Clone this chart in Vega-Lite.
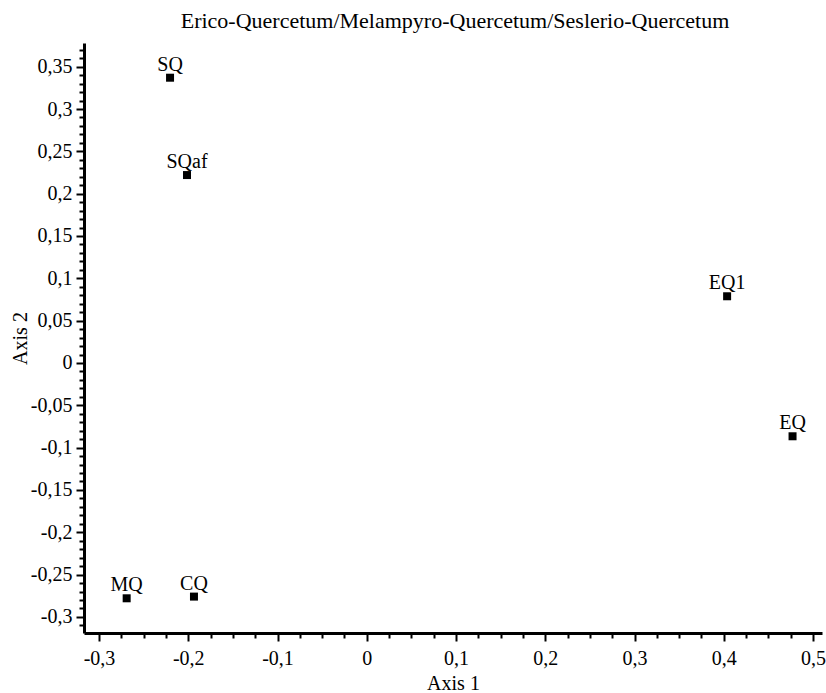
{
  "$schema": "https://vega.github.io/schema/vega-lite/v6.json",
  "width": 738,
  "height": 590,
  "autosize": "none",
  "padding": {"left": 84, "top": 43, "right": 4, "bottom": 60},
  "title": {"text": "Erico-Quercetum/Melampyro-Quercetum/Seslerio-Quercetum", "font": "Liberation Serif", "fontSize": 22, "fontWeight": "normal", "color": "black", "offset": 7, "anchor": "middle", "dx": 2},
  "config": {
    "view": {"stroke": null},
    "font": "Liberation Serif",
    "axis": {
      "labelFont": "Liberation Serif", "labelFontSize": 20, "labelColor": "black",
      "titleFont": "Liberation Serif", "titleFontSize": 20, "titleFontWeight": "normal", "titleColor": "black",
      "domainColor": "black", "domainWidth": 3, "tickColor": "black", "tickWidth": 2, "grid": false
    }
  },
  "data": {"values": [
    {"site": "SQ", "axis1": -0.2204, "axis2": 0.337},
    {"site": "SQaf", "axis1": -0.2014, "axis2": 0.222},
    {"site": "MQ", "axis1": -0.269, "axis2": -0.278},
    {"site": "CQ", "axis1": -0.1936, "axis2": -0.276},
    {"site": "EQ1", "axis1": 0.4037, "axis2": 0.0788},
    {"site": "EQ", "axis1": 0.477, "axis2": -0.0866}
  ]},
  "encoding": {
    "x": {
      "field": "axis1", "type": "quantitative",
      "scale": {"domain": [-0.3168, 0.51], "nice": false, "zero": false},
      "axis": {
        "title": "Axis 1",
        "values": [-0.3,-0.275,-0.25,-0.225,-0.2,-0.175,-0.15,-0.125,-0.1,-0.075,-0.05,-0.025,0,0.025,0.05,0.075,0.1,0.125,0.15,0.175,0.2,0.225,0.25,0.275,0.3,0.325,0.35,0.375,0.4,0.425,0.45,0.475,0.5],
        "tickSize": {"condition": {"test": "abs(datum.value*10 - round(datum.value*10)) < 0.001", "value": 8}, "value": 5},
        "labelExpr": "abs(datum.value*10 - round(datum.value*10)) < 0.001 ? replace(replace(format(datum.value, '.2~f'), '.', ','), '\u2212', '-') : ''",
        "labelPadding": 7, "labelFlush": false, "labelOverlap": false,
        "titlePadding": 5
      }
    },
    "y": {
      "field": "axis2", "type": "quantitative",
      "scale": {"domain": [-0.319, 0.378], "nice": false, "zero": false},
      "axis": {
        "title": "Axis 2",
        "values": [-0.31,-0.3,-0.29,-0.28,-0.27,-0.26,-0.25,-0.24,-0.23,-0.22,-0.21,-0.2,-0.19,-0.18,-0.17,-0.16,-0.15,-0.14,-0.13,-0.12,-0.11,-0.1,-0.09,-0.08,-0.07,-0.06,-0.05,-0.04,-0.03,-0.02,-0.01,0,0.01,0.02,0.03,0.04,0.05,0.06,0.07,0.08,0.09,0.1,0.11,0.12,0.13,0.14,0.15,0.16,0.17,0.18,0.19,0.2,0.21,0.22,0.23,0.24,0.25,0.26,0.27,0.28,0.29,0.3,0.31,0.32,0.33,0.34,0.35,0.36,0.37],
        "tickSize": {"condition": {"test": "abs(datum.value*20 - round(datum.value*20)) < 0.001", "value": 8}, "value": 5},
        "labelExpr": "abs(datum.value*20 - round(datum.value*20)) < 0.001 ? replace(replace(format(datum.value, '.2~f'), '.', ','), '\u2212', '-') : ''",
        "labelPadding": 4, "labelFlush": false, "labelOverlap": false,
        "titlePadding": 0
      }
    }
  },
  "layer": [
    {"mark": {"type": "point", "shape": "square", "filled": true, "color": "black", "size": 64, "opacity": 1}},
    {"mark": {"type": "text", "dy": -7, "baseline": "alphabetic", "align": "center", "fontSize": 20, "font": "Liberation Serif", "color": "black"},
     "encoding": {"text": {"field": "site"}}}
  ]
}
